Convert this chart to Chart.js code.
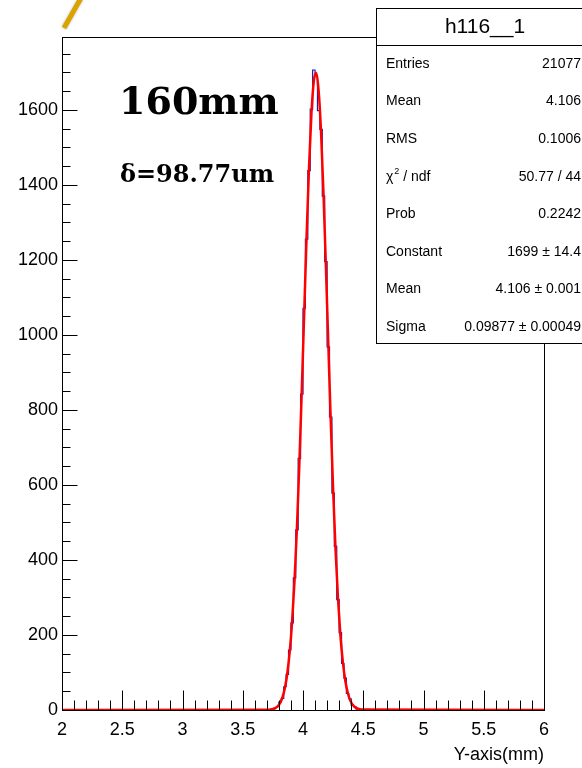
<!DOCTYPE html>
<html>
<head>
<meta charset="utf-8">
<script src="https://cdn.jsdelivr.net/npm/chart.js@4.4.0/dist/chart.umd.min.js"></script>
<style>
html, body { margin: 0; padding: 0; background: #fff; }
#wrap { position: relative; width: 582px; height: 768px; }
</style>
</head>
<body>
<div id="wrap"><canvas id="c" width="582" height="768"></canvas></div>
<script>
// Histogram h116__1 (bin width 0.02 mm)
const binCenters = [3.69, 3.71, 3.73, 3.75, 3.77, 3.79, 3.81, 3.83, 3.85, 3.87, 3.89,
  3.91, 3.93, 3.95, 3.97, 3.99, 4.01, 4.03, 4.05, 4.07, 4.09,
  4.11, 4.13, 4.15, 4.17, 4.19, 4.21, 4.23, 4.25, 4.27, 4.29,
  4.31, 4.33, 4.35, 4.37, 4.39, 4.41, 4.43, 4.45, 4.47, 4.49, 4.51];
const binCounts = [0, 1, 0, 3, 6, 9, 21, 31, 62, 95, 160,
  232, 352, 480, 671, 842, 1071, 1255, 1438, 1602, 1706,
  1690, 1598, 1548, 1370, 1195, 968, 781, 578, 436, 294,
  206, 124, 85, 44, 30, 13, 9, 3, 2, 0, 0];

// Gaussian fit curve (red)
const fitX = [2.00, 3.71, 3.73, 3.75, 3.77, 3.79, 3.81, 3.83, 3.85, 3.87, 3.89,
  3.91, 3.93, 3.95, 3.97, 3.99, 4.01, 4.03, 4.05, 4.07, 4.09,
  4.11, 4.13, 4.15, 4.17, 4.19, 4.21, 4.23, 4.25, 4.27, 4.29,
  4.31, 4.33, 4.35, 4.37, 4.39, 4.41, 4.43, 4.45, 4.47, 4.49, 6.00];
const fitY = [0, 0.5, 1.2, 2.6, 5.2, 10, 19, 34, 59, 98, 156,
  237, 347, 488, 658, 853, 1059, 1264, 1447, 1590, 1677,
  1698, 1650, 1539, 1377, 1183, 976, 773, 587, 428, 300,
  201, 130, 80, 48, 27, 15, 8, 4, 2, 1, 0];

const xTicks = [2, 2.5, 3, 3.5, 4, 4.5, 5, 5.5, 6];
const yTicks = [0, 200, 400, 600, 800, 1000, 1200, 1400, 1600];

const statsTitle = 'h116__1';
const statsLabels = ['Entries', 'Mean', 'RMS', 'χ2 / ndf', 'Prob', 'Constant', 'Mean', 'Sigma'];
const statsValues = ['21077', '4.106', '0.1006', '50.77 / 44', '0.2242', '1699 ± 14.4', '4.106 ± 0.001', '0.09877 ± 0.00049'];

const SANS = '"Liberation Sans", Arial, sans-serif';

// frame + inside ticks like ROOT, stats box, labels
const rootDecor = {
  id: 'rootDecor',
  afterDatasetsDraw(chart) {
    const { ctx, chartArea: a, scales: { x, y } } = chart;
    const L = Math.round(a.left) + 0.5, R = Math.round(a.right) + 0.5;
    const T = Math.round(a.top) + 0.5, B = Math.round(a.bottom) + 0.5;
    ctx.save();
    ctx.strokeStyle = '#000';
    ctx.lineWidth = 1;
    ctx.beginPath();
    // x ticks: major every 0.5, minor every 0.1
    for (let i = 0; i <= 40; i++) {
      const v = 2 + i * 0.1;
      const px = Math.round(x.getPixelForValue(v)) + 0.5;
      const len = (i % 5 === 0) ? 20 : 10;
      ctx.moveTo(px, B); ctx.lineTo(px, B - len);
    }
    // y ticks: major every 200, minor every 50
    for (let v = 0; v <= 1750; v += 50) {
      const py = Math.round(y.getPixelForValue(v)) + 0.5;
      const len = (v % 200 === 0) ? 15 : 8;
      ctx.moveTo(L, py); ctx.lineTo(L + len, py);
    }
    ctx.stroke();
    ctx.strokeRect(L, T, R - L, B - T);
    ctx.restore();
  },
  afterDraw(chart) {
    const ctx = chart.ctx;
    ctx.save();
    // stats box
    const bx = 376.5, by = 8.5, bw = 220, bh = 335;
    ctx.fillStyle = '#fff';
    ctx.fillRect(bx, by, bw, bh);
    ctx.strokeStyle = '#000';
    ctx.lineWidth = 1;
    ctx.strokeRect(bx, by, bw, bh);
    ctx.beginPath();
    ctx.moveTo(bx, 45.5); ctx.lineTo(bx + bw, 45.5);
    ctx.stroke();
    ctx.fillStyle = '#000';
    ctx.textBaseline = 'middle';
    ctx.textAlign = 'center';
    ctx.font = '21px ' + SANS;
    ctx.fillText(statsTitle, 485, 27);
    ctx.font = '14px ' + SANS;
    statsLabels.forEach((lab, i) => {
      const ry = 64 + i * 37.6;
      ctx.textAlign = 'left';
      if (lab.startsWith('χ2')) {
        ctx.fillText('χ', 386, ry);
        const w = ctx.measureText('χ').width;
        ctx.font = '9px ' + SANS;
        ctx.fillText('2', 386 + w + 1, ry - 5);
        ctx.font = '14px ' + SANS;
        ctx.fillText(' / ndf', 386 + w + 6, ry);
      } else {
        ctx.fillText(lab, 386, ry);
      }
      ctx.textAlign = 'right';
      ctx.fillText(statsValues[i], 581, ry);
    });
    // annotations
    ctx.textAlign = 'left';
    ctx.textBaseline = 'alphabetic';
    ctx.font = 'bold 38px "DejaVu Serif", serif';
    ctx.fillText('160mm', 119, 114);
    ctx.font = 'bold 24px "DejaVu Serif", serif';
    ctx.fillText('δ=98.77um', 120, 182);
    // yellow stroke at top-left corner
    ctx.strokeStyle = '#d9a300';
    ctx.lineWidth = 5;
    ctx.shadowColor = 'rgba(0,0,0,0.25)';
    ctx.shadowBlur = 3;
    ctx.beginPath();
    ctx.moveTo(64, 28); ctx.lineTo(81, -2);
    ctx.stroke();
    ctx.restore();
  }
};

new Chart(document.getElementById('c'), {
  type: 'line',
  data: {
    datasets: [
      {
        label: 'fit',
        data: fitX.map((v, i) => ({ x: v, y: fitY[i] })),
        borderColor: '#ff0000',
        borderWidth: 2.5,
        pointRadius: 0,
        cubicInterpolationMode: 'monotone',
        fill: false
      },
      {
        label: 'h116__1',
        data: binCenters.map((v, i) => ({ x: v, y: binCounts[i] })),
        borderColor: '#1c1ca8',
        borderWidth: 1.2,
        pointRadius: 0,
        stepped: 'middle',
        fill: false
      }
    ]
  },
  options: {
    responsive: false,
    animation: false,
    events: [],
    layout: { padding: { left: 0, right: 38, top: 37, bottom: 0 } },
    plugins: { legend: { display: false }, tooltip: { enabled: false } },
    scales: {
      x: {
        type: 'linear',
        min: 2, max: 6,
        grid: { display: false, drawTicks: false },
        border: { display: false },
        afterBuildTicks: s => { s.ticks = xTicks.map(v => ({ value: v })); },
        afterFit: s => { s.height = 58; },
        ticks: {
          color: '#000',
          padding: 9,
          maxRotation: 0,
          autoSkip: false,
          font: { family: SANS, size: 18 },
          callback: v => String(v)
        },
        title: {
          display: true,
          text: 'Y-axis(mm)',
          align: 'end',
          color: '#000',
          font: { family: SANS, size: 18 },
          padding: { top: 0, bottom: 2 }
        }
      },
      y: {
        type: 'linear',
        min: 0, max: 1794,
        grid: { display: false, drawTicks: false },
        border: { display: false },
        afterBuildTicks: s => { s.ticks = yTicks.map(v => ({ value: v })); },
        afterFit: s => { s.width = 62; },
        ticks: {
          color: '#000',
          padding: 4,
          autoSkip: false,
          font: { family: SANS, size: 18 },
          callback: v => String(v)
        }
      }
    }
  },
  plugins: [rootDecor]
});
</script>
</body>
</html>
